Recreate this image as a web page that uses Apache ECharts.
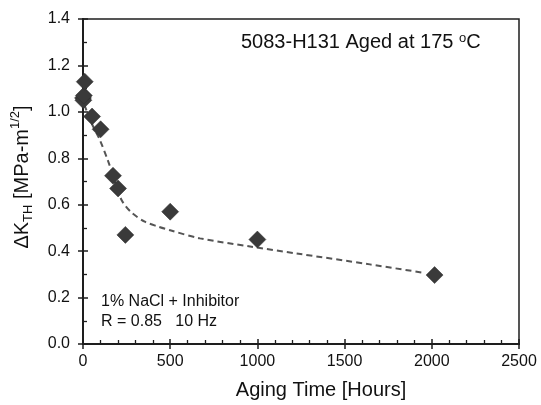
<!DOCTYPE html>
<html>
<head>
<meta charset="utf-8">
<script src="https://cdn.jsdelivr.net/npm/echarts@6/dist/echarts.min.js"></script>
<style>html,body{margin:0;padding:0;background:#fff}#c{width:541px;height:405px}</style>
</head>
<body>
<div id="c"></div>
<script>
// Measured data points (aging time in hours, ΔK_TH in MPa·m^1/2)
var agingHours = [0, 2, 5, 10, 52, 101, 172, 201, 243, 500, 1000, 2016];
var deltaKth   = [1.06, 1.05, 1.07, 1.13, 0.98, 0.925, 0.725, 0.67, 0.47, 0.57, 0.45, 0.297];
// Dashed trend curve
var trendHours = [8, 50, 96, 143, 172, 201, 229, 280, 354, 430, 500, 671, 958, 1225, 1645, 1951];
var trendK     = [1.03, 0.95, 0.88, 0.79, 0.725, 0.655, 0.61, 0.565, 0.527, 0.506, 0.49, 0.455, 0.42, 0.39, 0.343, 0.307];
// Axis ticks
var xTicks = [0, 500, 1000, 1500, 2000, 2500];
var yTicks = [0.0, 0.2, 0.4, 0.6, 0.8, 1.0, 1.2, 1.4];

var points = agingHours.map(function (h, i) { return [h, deltaKth[i]]; });
var trend = trendHours.map(function (h, i) { return [h, trendK[i]]; });

var FONT = 'Liberation Sans, Arial, sans-serif';
var AX = '#1e1e1e';

var chart = echarts.init(document.getElementById('c'), null, {renderer: 'canvas'});
var xmin = xTicks[0], xmax = xTicks[xTicks.length - 1], xint = xTicks[1] - xTicks[0];
var ymin = yTicks[0], ymax = yTicks[yTicks.length - 1], yint = 0.2;

function baseX(extra) {
  return Object.assign({
    type: 'value', min: xmin, max: xmax, interval: xint, position: 'bottom',
    axisLine: {show: true, lineStyle: {color: AX, width: 2}},
    splitLine: {show: false}
  }, extra);
}
function baseY(extra) {
  return Object.assign({
    type: 'value', min: ymin, max: ymax, interval: yint, position: 'left',
    axisLine: {show: true, lineStyle: {color: AX, width: 2}},
    splitLine: {show: false}
  }, extra);
}

chart.setOption({
  animation: false,
  backgroundColor: '#fff',
  grid: {left: 83, right: 22, top: 19, bottom: 61, show: true, borderColor: AX, borderWidth: 1.5, backgroundColor: 'transparent'},
  xAxis: [
    baseX({
      axisTick: {show: true, inside: false, length: 5, lineStyle: {color: AX, width: 1.5}},
      minorTick: {show: false},
      axisLabel: {show: true, margin: 10, color: '#111', fontFamily: FONT, fontSize: 16,
        formatter: function (v) { return String(v); }}
    }),
    baseX({
      axisTick: {show: true, inside: true, length: 5, lineStyle: {color: AX, width: 1.5}},
      minorTick: {show: true, splitNumber: 5, length: 4, lineStyle: {color: AX, width: 1.3}},
      axisLabel: {show: false}
    })
  ],
  yAxis: [
    baseY({
      axisTick: {show: true, inside: false, length: 5, lineStyle: {color: AX, width: 1.5}},
      minorTick: {show: false},
      axisLabel: {show: true, margin: 13, color: '#111', fontFamily: FONT, fontSize: 16,
        formatter: function (v) { return v.toFixed(1); }}
    }),
    baseY({
      axisTick: {show: true, inside: true, length: 5, lineStyle: {color: AX, width: 1.5}},
      minorTick: {show: true, splitNumber: 2, length: 4, lineStyle: {color: AX, width: 1.3}},
      axisLabel: {show: false}
    })
  ],
  series: [
    {
      type: 'line', xAxisIndex: 0, yAxisIndex: 0, data: trend, smooth: 0.3,
      showSymbol: false, symbol: 'none',
      lineStyle: {color: '#555', width: 2, type: [6, 4]},
      z: 2
    },
    {
      type: 'scatter', xAxisIndex: 0, yAxisIndex: 0, data: points,
      symbol: 'diamond', symbolSize: 17,
      itemStyle: {color: '#3a3a3a', borderColor: '#2e2e2e', borderWidth: 0.5, opacity: 1},
      z: 3
    }
  ],
  graphic: [
    {
      type: 'text', left: 241, top: 32,
      style: {
        text: '5083-H131 Aged at 175 {s|o}C',
        font: '20px ' + FONT, fill: '#111',
        rich: {s: {fontSize: 13, fontFamily: FONT, fill: '#111', verticalAlign: 'top', lineHeight: 13}}
      }
    },
    {
      type: 'text', left: 101, top: 294,
      style: {text: '1% NaCl + Inhibitor', font: '16px ' + FONT, fill: '#111'}
    },
    {
      type: 'text', left: 101, top: 314,
      style: {text: 'R = 0.85   10 Hz', font: '16px ' + FONT, fill: '#111'}
    },
    {
      type: 'text', x: 321, y: 390,
      style: {text: 'Aging Time [Hours]', font: '20px ' + FONT, fill: '#111', align: 'center', verticalAlign: 'middle'}
    },
    {
      type: 'text', x: 22, y: 177, rotation: Math.PI / 2,
      style: {
        text: '{m|ΔK}{b|TH}{m| [MPa-m}{t|1/2}{m|]}',
        align: 'center', verticalAlign: 'middle',
        rich: {
          m: {fontSize: 20, fontFamily: FONT, fill: '#111', lineHeight: 26, verticalAlign: 'middle'},
          b: {fontSize: 13, fontFamily: FONT, fill: '#111', lineHeight: 14, verticalAlign: 'bottom'},
          t: {fontSize: 13, fontFamily: FONT, fill: '#111', lineHeight: 14, verticalAlign: 'top'}
        }
      }
    }
  ]
});
</script>
</body>
</html>
